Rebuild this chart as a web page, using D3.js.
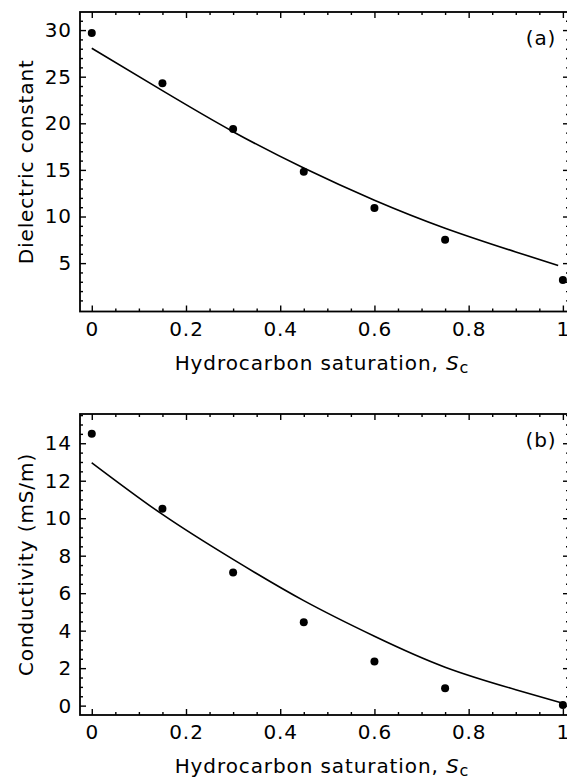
<!DOCTYPE html>
<html lang="en">
<head>
<meta charset="UTF-8"/>
<script src="https://d3js.org/d3.v7.min.js"></script>
<title>Dielectric constant and conductivity</title>
<style>
  body { margin: 0; background: #fff; }
  svg { display: block; }
  text { font-family: "DejaVu Sans", "Liberation Sans", Arial, sans-serif; fill: #000; letter-spacing: 0.9px; }
</style>
</head>
<body>
<div id="chart"></div>
<script>
// Measured samples (hydrocarbon saturation)
var satPoints = [0, 0.15, 0.3, 0.45, 0.6, 0.75, 1];
var dielectricObs = [29.7, 24.3, 19.4, 14.8, 10.9, 7.5, 3.2];
var conductivityObs = [14.5, 10.5, 7.1, 4.45, 2.35, 0.93, 0.04];

// Model curves
var dielectricFitX = [0, 0.15, 0.3, 0.45, 0.6, 0.75, 0.9, 0.99];
var dielectricFitY = [28.05, 23.5, 19.1, 15.2, 11.75, 8.75, 6.2, 4.75];
var conductivityFitX = [0, 0.15, 0.3, 0.45, 0.6, 0.75, 0.9, 1.0];
var conductivityFitY = [12.96, 10.2, 7.8, 5.6, 3.7, 2.05, 0.85, 0.13];

// Ticks
var xTicks = [0, 0.2, 0.4, 0.6, 0.8, 1];
var xTickLabels = ["0", "0.2", "0.4", "0.6", "0.8", "1"];
var dielectricTicks = [5, 10, 15, 20, 25, 30];
var conductivityTicks = [0, 2, 4, 6, 8, 10, 12, 14];

var width = 567, height = 780;
var fontSize = "20px";

var svg = d3.select("#chart").append("svg")
  .attr("width", width)
  .attr("height", height);

// shared x scale
var left = 80, right = 569;
var x = d3.scaleLinear().domain([-0.025, 1.013]).range([left, right]);
var xMinor = d3.range(0, 1.0001, 0.05);

function drawPanel(cfg) {
  var y = d3.scaleLinear().domain(cfg.yDomain).range([cfg.bottom, cfg.top]);
  var g = svg.append("g");

  // minor ticks, all four sides
  var minorX = xMinor.filter(function(v) { return xTicks.indexOf(+v.toFixed(2)) < 0; });
  g.append("g").attr("transform", "translate(0," + cfg.bottom + ")")
    .call(d3.axisBottom(x).tickValues(minorX).tickSize(-3).tickFormat(""));
  g.append("g").attr("transform", "translate(0," + cfg.top + ")")
    .call(d3.axisTop(x).tickValues(minorX).tickSize(-3).tickFormat(""));
  g.append("g").attr("transform", "translate(" + left + ",0)")
    .call(d3.axisLeft(y).tickValues(cfg.yMinor).tickSize(-3).tickFormat(""));
  g.append("g").attr("transform", "translate(" + right + ",0)")
    .call(d3.axisRight(y).tickValues(cfg.yMinor).tickSize(-3).tickFormat(""));

  // major ticks
  g.append("g").attr("class", "xaxis").attr("transform", "translate(0," + cfg.bottom + ")")
    .call(d3.axisBottom(x).tickValues(xTicks).tickSize(-6).tickPadding(10)
      .tickFormat(function(d, i) { return xTickLabels[i]; }));
  g.append("g").attr("transform", "translate(0," + cfg.top + ")")
    .call(d3.axisTop(x).tickValues(xTicks).tickSize(-6).tickFormat(""));
  g.append("g").attr("class", "yaxis").attr("transform", "translate(" + left + ",0)")
    .call(d3.axisLeft(y).tickValues(cfg.yTicks).tickSize(-6).tickPadding(8).tickFormat(d3.format("d")));
  g.append("g").attr("transform", "translate(" + right + ",0)")
    .call(d3.axisRight(y).tickValues(cfg.yTicks).tickSize(-6).tickFormat(""));

  g.selectAll(".domain").remove();
  g.selectAll(".tick line").attr("stroke", "#000").attr("stroke-width", 1.4);
  g.selectAll(".tick text").style("font-size", fontSize).attr("fill", "#000");

  // frame
  g.append("rect")
    .attr("x", left).attr("y", cfg.top)
    .attr("width", right - left).attr("height", cfg.bottom - cfg.top)
    .attr("fill", "none").attr("stroke", "#000").attr("stroke-width", 1.8);

  // fitted curve
  var line = d3.line()
    .x(function(d) { return x(d[0]); })
    .y(function(d) { return y(d[1]); })
    .curve(d3.curveNatural);
  g.append("path")
    .datum(d3.zip(cfg.fitX, cfg.fitY))
    .attr("d", line)
    .attr("fill", "none")
    .attr("stroke", "#000")
    .attr("stroke-width", 1.6);

  // measured points
  g.selectAll("circle.obs")
    .data(d3.zip(satPoints, cfg.obs))
    .enter()
    .append("circle")
    .attr("class", "obs")
    .attr("cx", function(d) { return x(d[0]); })
    .attr("cy", function(d) { return y(d[1]); })
    .attr("r", 4)
    .attr("fill", "#000");

  // panel label
  g.append("text")
    .attr("x", 541).attr("y", cfg.top + 33)
    .attr("text-anchor", "middle")
    .style("font-size", fontSize)
    .text(cfg.label);

  // y title
  g.append("text")
    .attr("transform", "translate(33," + ((cfg.top + cfg.bottom) / 2) + ") rotate(-90)")
    .attr("text-anchor", "middle")
    .style("font-size", fontSize)
    .text(cfg.yTitle);

  // x title with italic S and subscript c
  var xt = g.append("text")
    .attr("x", 322).attr("y", cfg.bottom + 58)
    .attr("text-anchor", "middle")
    .style("font-size", fontSize);
  xt.append("tspan").text("Hydrocarbon saturation, ");
  xt.append("tspan").style("font-style", "italic").text("S");
  xt.append("tspan").attr("dy", 3).style("font-size", "16px").text("c");
}

drawPanel({
  top: 12, bottom: 311.5,
  yDomain: [-0.19, 31.94],
  yTicks: dielectricTicks,
  yMinor: d3.range(1, 32).filter(function(v) { return v % 5 !== 0; }),
  obs: dielectricObs,
  fitX: dielectricFitX, fitY: dielectricFitY,
  label: "(a)",
  yTitle: "Dielectric constant"
});

drawPanel({
  top: 414, bottom: 715,
  yDomain: [-0.5, 15.56],
  yTicks: conductivityTicks,
  yMinor: d3.range(0.5, 15.6, 0.5).filter(function(v) { return v % 2 !== 0; }),
  obs: conductivityObs,
  fitX: conductivityFitX, fitY: conductivityFitY,
  label: "(b)",
  yTitle: "Conductivity (mS/m)"
});
</script>
</body>
</html>
